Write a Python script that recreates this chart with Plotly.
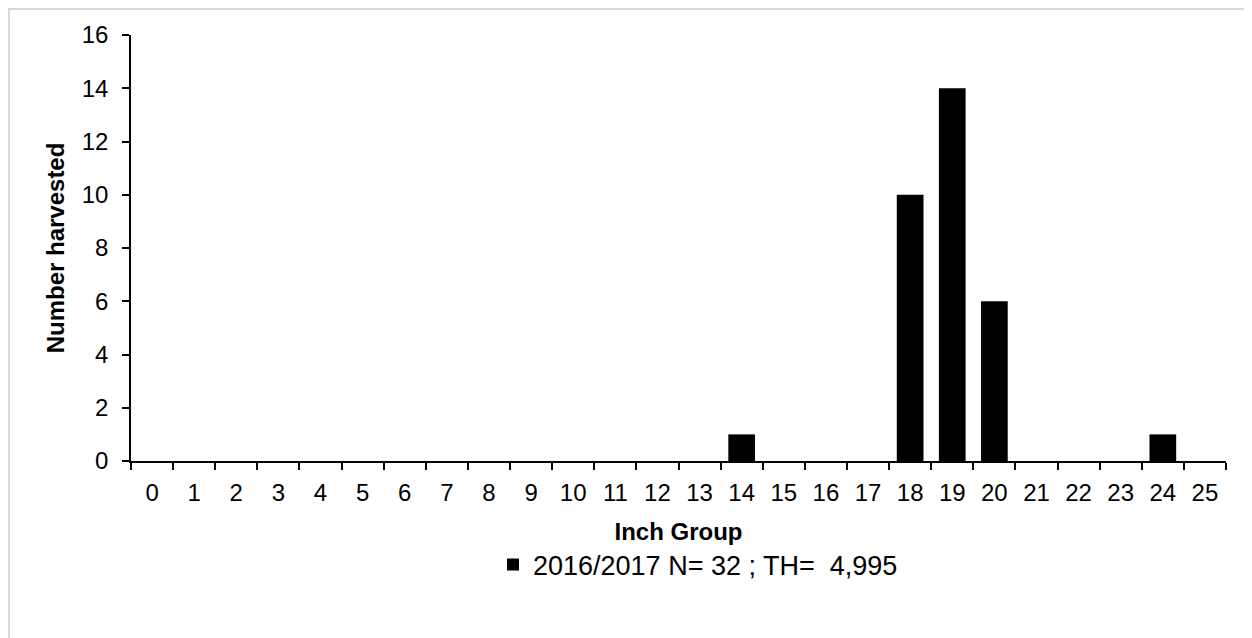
import plotly.graph_objects as go

categories = [str(i) for i in range(26)]
harvested = [0, 0, 0, 0, 0, 0, 0, 0, 0, 0, 0, 0, 0, 0, 1, 0, 0, 0, 10, 14, 6, 0, 0, 0, 1, 0]
series_name = "2016/2017 N= 32 ; TH=  4,995"
y_ticks = [0, 2, 4, 6, 8, 10, 12, 14, 16]

FONT = "Liberation Sans, Arial, sans-serif"
FS = 24
FS_LEG = 27

fig = go.Figure()
fig.add_trace(go.Bar(
    x=categories, y=harvested, name=series_name,
    marker=dict(color="#000000", line=dict(width=0)),
    showlegend=True,
))

# page body has an 8px margin; the figure starts at page (8, 8)
OFF = 8
W, H = 1252 - OFF, 638 - OFF
L, R, T, B = 131 - OFF, 26, 35 - OFF, 177
pw, ph = W - L - R, H - T - B

def px_x(x_page):
    return (x_page - OFF - L) / pw

def px_y(y_page):
    return (H - B - (y_page - OFF)) / ph

fig.update_layout(
    width=W, height=H,
    margin=dict(l=L, r=R, t=T, b=B),
    paper_bgcolor="white", plot_bgcolor="white",
    font=dict(family=FONT, size=FS, color="#000000"),
    bargap=0.366,
    showlegend=True,
    legend=dict(
        orientation="h", x=px_x(698), xanchor="center",
        y=px_y(565), yanchor="middle",
        font=dict(size=FS_LEG), itemwidth=30,
    ),
    xaxis=dict(
        type="category", tickson="boundaries",
        ticks="outside", ticklen=7, tickcolor="#000", tickwidth=1.5,
        showline=True, linecolor="#000", linewidth=1.5,
        showgrid=False, zeroline=False,
        tickfont=dict(size=FS), ticklabelstandoff=9,
        title=dict(text="<b>Inch Group</b>", font=dict(size=FS), standoff=19),
    ),
    yaxis=dict(
        range=[0, 16], tickvals=y_ticks,
        ticks="outside", ticklen=7, tickcolor="#000", tickwidth=1.5,
        showline=True, linecolor="#000", linewidth=1.5,
        showgrid=False, zeroline=False,
        tickfont=dict(size=FS), ticklabelstandoff=9,
        title=dict(text="<b>Number harvested</b>", font=dict(size=FS), standoff=10),
    ),
    shapes=[dict(
        type="rect", xref="paper", yref="paper",
        x0=px_x(OFF + 1), x1=px_x(1400), y0=px_y(800), y1=px_y(OFF + 1),
        line=dict(color="#d9d9d9", width=2), fillcolor="rgba(0,0,0,0)",
        layer="below",
    )],
)

fig.write_html("out.html")
